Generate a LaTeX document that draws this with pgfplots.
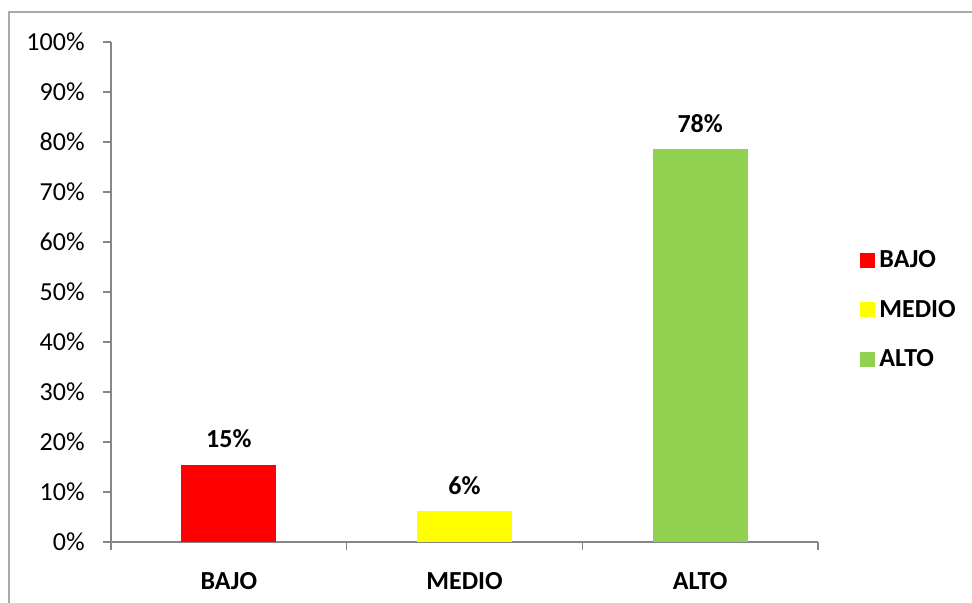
\documentclass[border=0pt]{standalone}
\usepackage{pgfplots}
\pgfplotsset{compat=1.18}
\usepackage{fontspec}
\setmainfont{Carlito}
\definecolor{axgray}{RGB}{134,134,134}
\definecolor{framegray}{RGB}{170,170,170}
\definecolor{cbajo}{RGB}{255,0,0}
\definecolor{cmedio}{RGB}{255,255,0}
\definecolor{calto}{RGB}{146,208,80}
\begin{document}
\begin{tikzpicture}
\begin{axis}[
  name=ax,
  scale only axis,
  width=353.5pt, height=250pt,
  xmin=-0.5, xmax=2.5,
  ymin=0, ymax=100,
  axis x line=bottom, axis y line=left,
  axis line style={draw=axgray, line width=0.6pt, -},
  tick align=outside,
  major tick length=4pt, minor tick length=4pt,
  tick style={draw=axgray, line width=0.6pt},
  major x tick style={draw=none},
  xtick={0,1,2},
  xticklabels={BAJO,MEDIO,ALTO},
  minor xtick={-0.5,0.5,1.5,2.5},
  ytick={0,10,...,100},
  yticklabel={\pgfmathprintnumber{\tick}\%},
  /pgf/number format/assume math mode=true,
  tick label style={font=\fontsize{13}{15.6}\selectfont},
  xticklabel style={font=\fontsize{13}{15.6}\selectfont\bfseries, anchor=north, inner sep=0pt, yshift=-11pt},
  yticklabel style={anchor=east, inner sep=0pt, xshift=-9pt},
  ybar, bar width=0.403, bar shift=0pt,
  point meta=explicit symbolic,
  nodes near coords,
  every node near coord/.append style={font=\fontsize{13}{15.6}\selectfont\bfseries, anchor=base, inner sep=0pt, yshift=8.5pt, color=black},
  legend style={draw=none, at={(rel axis cs:1.0594,0.464)}, anchor=west, inner sep=0pt, font=\fontsize{13}{15.6}\selectfont\bfseries, row sep=10.5pt},
  legend cell align=left,
  legend image code/.code={\fill[#1] (0pt,-3.75pt) rectangle (7.5pt,3.75pt);},
  clip=false,
]
\addplot[fill=cbajo, draw=none] coordinates {(0,15.4) [15\%]};
\addplot[fill=cmedio, draw=none] coordinates {(1,6.1) [6\%]};
\addplot[fill=calto, draw=none] coordinates {(2,78.5) [78\%]};
\legend{BAJO,MEDIO,ALTO}
\end{axis}
\draw[framegray, line width=1pt] ([shift={(-51pt,-30.5pt)}]ax.south west) -- ++(0,295.5pt) -- ++(481.5pt,0);
\pgfresetboundingbox
\path[use as bounding box] ([shift={(-55.5pt,-30.5pt)}]ax.south west) rectangle ([shift={(430.5pt,271pt)}]ax.south west);
\end{tikzpicture}
\end{document}
